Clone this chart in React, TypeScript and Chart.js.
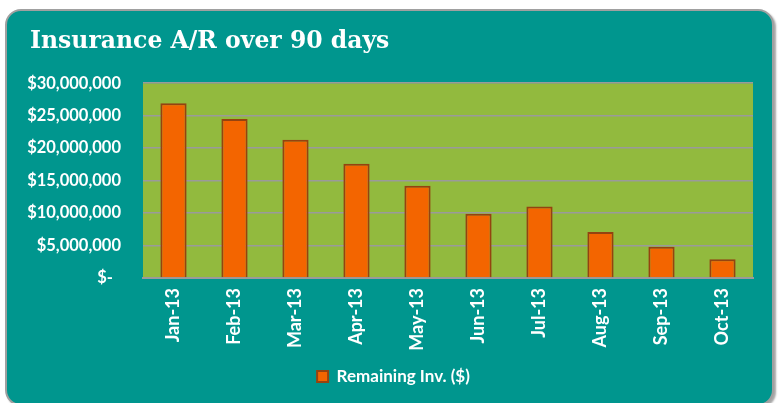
import React, { useEffect, useRef } from "react";
import { Chart, registerables } from "chart.js";

Chart.register(...registerables);

const TITLE = "Insurance A/R over 90 days";
const categories = ["Jan-13", "Feb-13", "Mar-13", "Apr-13", "May-13", "Jun-13", "Jul-13", "Aug-13", "Sep-13", "Oct-13"];
const seriesName = "Remaining Inv. ($)";
const remaining = [26900000, 24500000, 21300000, 17600000, 14200000, 9900000, 11000000, 7100000, 4800000, 2900000];
const yMin = 0;
const yMax = 30000000;
const yStep = 5000000;

const TEAL = "#00968E";
const GREEN = "#92BA3E";
const ORANGE = "#F36500";
const ORANGE_DARK = "#944310";

const plotBg = {
  id: "plotBg",
  afterLayout(chart: any) {
    if (chart.titleBlock) chart.titleBlock.left = 30;
    if (chart.legend) {
      chart.legend.left += 11;
      chart.legend.right += 11;
    }
  },
  beforeDraw(chart: any) {
    const { ctx, chartArea } = chart;
    ctx.save();
    ctx.fillStyle = GREEN;
    ctx.fillRect(chartArea.left, chartArea.top, chartArea.right - chartArea.left, chartArea.bottom - chartArea.top);
    ctx.restore();
  },
};

function fmtMoney(v: number) {
  if (v === 0) return "$-  ";
  return "$" + v.toLocaleString("en-US");
}

export default function App() {
  const ref = useRef<HTMLCanvasElement>(null);
  useEffect(() => {
    const chart = new Chart(ref.current!, {
      type: "bar",
      data: {
        labels: categories,
        datasets: [
          {
            label: seriesName,
            data: remaining,
            backgroundColor: ORANGE,
            borderColor: ORANGE_DARK,
            borderWidth: 2,
            barPercentage: 0.43,
            categoryPercentage: 1,
          },
        ],
      },
      options: {
        animation: false,
        responsive: false,
        maintainAspectRatio: false,
        layout: { padding: { left: 12, right: 26, top: 10, bottom: 8 } },
        plugins: {
          title: {
            display: true,
            text: TITLE,
            align: "start",
            color: "#FFFFFF",
            font: { family: "'DejaVu Serif'", size: 23.5, weight: "bold" },
            padding: { top: 18, bottom: 27 },
          },
          legend: {
            position: "bottom",
            labels: {
              color: "#FFFFFF",
              boxWidth: 11,
              boxHeight: 11,
              font: { family: "Lato", size: 17, weight: "bold" },
              padding: 9,
            },
          },
          tooltip: { enabled: false },
        },
        scales: {
          x: {
            grid: { display: false },
            border: { display: true, color: "#9A9A9A", width: 2 },
            ticks: {
              color: "#FFFFFF",
              minRotation: 90,
              maxRotation: 90,
              padding: 2,
              font: { family: "Lato", size: 18, weight: "bold" },
            },
            afterFit(scale: any) {
              scale.height = 81;
            },
          },
          y: {
            min: yMin,
            max: yMax,
            grid: { color: "#9A9A9A", lineWidth: 1.5, drawTicks: false },
            border: { display: false },
            ticks: {
              stepSize: yStep,
              color: "#FFFFFF",
              padding: 22,
              font: { family: "Lato", size: 16.5, weight: "bold" },
              callback: (v: any) => fmtMoney(Number(v)),
            },
            afterFit(scale: any) {
              scale.width = 131;
            },
          },
        },
      },
      plugins: [plotBg],
    });
    return () => chart.destroy();
  }, []);

  return (
    <div style={{ position: "fixed", left: 0, top: 0, width: 779, height: 403, background: "#FFFFFF", overflow: "hidden" }}>
      <div
        style={{
          position: "absolute",
          left: 5,
          top: 9,
          width: 765,
          height: 393,
          background: TEAL,
          border: "2px solid #A0A0A0",
          borderRadius: 16,
          boxShadow: "2px 2px 2px rgba(0,0,0,0.35)",
        }}
      />
      <canvas ref={ref} width={779} height={403} style={{ position: "absolute", left: 0, top: 0 }} />
    </div>
  );
}
